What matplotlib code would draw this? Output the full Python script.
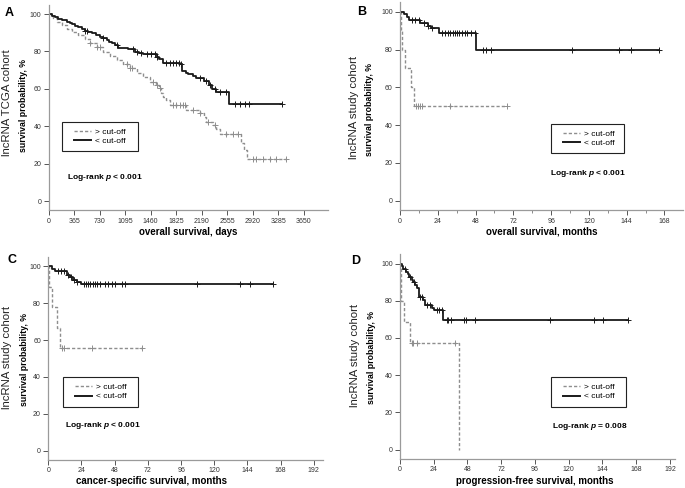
import numpy as np
import matplotlib
matplotlib.use("Agg")
import matplotlib.pyplot as plt
from matplotlib.patches import Rectangle

plt.rcParams['font.family'] = ['Liberation Sans', 'DejaVu Sans']
plt.rcParams['mathtext.fontset'] = 'custom'
plt.rcParams['mathtext.bfit'] = 'Liberation Sans:italic:bold'
plt.rcParams['lines.scale_dashes'] = False

# ---- panel A : TCGA cohort, overall survival (days)
a_hi_t = [0, 67, 114, 186, 257, 329, 424, 519, 591, 686, 781, 877, 972, 1067, 1163, 1258,
          1353, 1449, 1534, 1582, 1606, 1639, 1687, 1734, 1973, 2163, 2220, 2249, 2354,
          2392, 2449, 2759, 2792, 2840, 3393]
a_hi_s = [100, 97.7, 95.9, 94.1, 91.8, 90.2, 88.8, 86.5, 84.3, 82.2, 79.9, 77.5, 75.4, 73.3,
          70.9, 68.6, 66.1, 63.8, 62.0, 60.2, 57.6, 55.8, 54.0, 51.3, 48.7, 47.2, 45.1, 42.4,
          40.6, 38.3, 35.8, 30.8, 27.3, 22.3, 22.3]
a_hi_cens = [591, 686, 734, 1115, 1163, 1186, 1496, 1544, 1592, 1782, 1830, 1877, 1925, 1949,
             2068, 2163, 2282, 2378, 2545, 2640, 2711, 2926, 2973, 3069, 3164, 3259, 3393]
a_lo_t = [0, 45, 95, 140, 190, 257, 300, 329, 380, 424, 470, 519, 565, 615, 680, 734, 780,
          829, 870, 901, 950, 996, 1139, 1234, 1300, 1353, 1544, 1582, 1630, 1877, 1915,
          1960, 1997, 2060, 2116, 2220, 2297, 2344, 2392, 2583, 3345]
a_lo_s = [100, 99.2, 98.4, 97.3, 96.6, 95.9, 95.2, 94.7, 93.8, 92.9, 92.0, 91.1, 90.3, 89.7,
          88.8, 87.9, 87.0, 86.1, 85.2, 84.3, 83.2, 82.0, 81.1, 79.9, 79.1, 78.4, 77.2, 75.8,
          73.6, 73.1, 69.7, 68.7, 67.9, 66.8, 65.6, 64.3, 62.0, 59.7, 58.5, 51.9, 51.9]
a_lo_cens = [519, 553, 781, 972, 1201, 1258, 1329, 1401, 1472, 1520, 1544, 1687, 1734, 1782,
             1830, 1868, 1901, 2163, 2259, 2316, 2378, 2449, 2545, 2664, 2735, 2807, 2869, 3345]

# ---- panel B : study cohort, overall survival (months)
b_hi_t = [0, 0.4, 1.5, 3.2, 7.0, 9.1, 68.1]
b_hi_s = [100, 90, 80, 70, 60, 50, 50]
b_hi_cens = [10.0, 11.3, 12.8, 13.8, 31.9, 68.1]
b_lo_t = [0, 2.8, 4.7, 5.7, 12.8, 17.7, 19.8, 24.5, 48.5, 164.8]
b_lo_s = [100, 98.6, 97.0, 95.6, 93.8, 92.2, 91.3, 89.0, 80.0, 80.0]
b_lo_cens = [7.4, 9.6, 12.1, 15.1, 18.1, 20.6, 26.6, 28.7, 30.4, 31.9, 33.4, 34.7, 35.9, 37.6,
             39.3, 41.0, 42.7, 45.3, 47.4, 52.5, 54.7, 57.8, 109.1, 139.3, 146.7, 164.8]

# ---- panel C : study cohort, cancer-specific survival (months)
c_hi_t = [0, 0.5, 2.4, 6.5, 8.4, 67.5]
c_hi_s = [100, 88.9, 77.8, 66.7, 55.6, 55.6]
c_hi_cens = [9.6, 11.3, 31.3, 67.5]
c_lo_t = [0, 2.4, 4.8, 13.3, 15.7, 18.1, 21.0, 23.6, 162.6]
c_lo_s = [100, 98.6, 97.2, 95.4, 94.1, 92.7, 91.5, 90.3, 90.3]
c_lo_cens = [7.2, 9.2, 11.3, 14.5, 16.1, 18.5, 21.0, 25.8, 27.2, 28.4, 30.1, 32.0, 33.7, 35.4,
             37.3, 40.9, 43.4, 45.8, 48.2, 53.0, 55.4, 107.2, 138.5, 145.7, 162.6]

# ---- panel D : study cohort, progression-free survival (months)
d_hi_t = [0, 0.5, 3.1, 7.1, 42.2]
d_hi_s = [100, 80, 68.6, 57.1, 0]
d_hi_cens = [8.3, 9.5, 11.9, 39.1]
d_lo_t = [0, 1.2, 2.4, 4.3, 5.5, 6.6, 8.3, 9.5, 10.7, 11.9, 13.5, 16.6, 17.8, 23.0, 24.4,
          30.8, 162.4]
d_lo_s = [100, 98.6, 96.8, 95.5, 94.1, 92.5, 91.4, 89.8, 88.3, 86.9, 82.0, 80.3, 77.6, 76.1,
          74.9, 69.5, 69.5]
d_lo_cens = [3.6, 7.1, 10.2, 14.2, 15.4, 19.0, 21.3, 26.1, 27.7, 29.6, 33.2, 34.4, 36.3, 45.7,
             46.7, 53.3, 106.7, 138.2, 144.6, 162.4]

W, H = 685, 488
fig = plt.figure(figsize=(6.85, 4.88), dpi=100)
fig.patch.set_facecolor('white')

GRAY = '#8e8e8e'
BLACK = '#1a1a1a'


def px_axes(l, t, r, b):
    return fig.add_axes([l / W, 1 - b / H, (r - l) / W, (b - t) / H])


def km(ax, t, s, cens, color, ls):
    t = np.asarray(t, float)
    s = np.asarray(s, float)
    if ls == 'dash':
        ax.step(t, s, where='post', color=color, lw=1.0, dashes=(2.3, 1.5))
    else:
        ax.step(t, s, where='post', color=color, lw=1.3)
    cens = np.asarray(cens, float)
    idx = np.searchsorted(t, cens, side='right') - 1
    ax.plot(cens, s[idx], ls='none', marker='+', ms=3.8, mew=0.7, color=color)


def style(ax, xmax, xticks, minor=None):
    ax.set_xlim(0, xmax)
    ax.set_ylim(-5, 105)
    ax.set_xticks(xticks)
    if minor is not None:
        ax.set_xticks(minor, minor=True)
    ax.set_yticks([0, 20, 40, 60, 80, 100])
    for sp in ['top', 'right']:
        ax.spines[sp].set_visible(False)
    for sp in ['left', 'bottom']:
        ax.spines[sp].set_color('#9a9a9a')
        ax.spines[sp].set_linewidth(0.9)
    ax.tick_params(which='major', length=3.5, width=0.7, color='#555555', pad=1.8,
                   labelsize=5, labelcolor='#333333')
    ax.tick_params(which='minor', length=1.8, width=0.6, color='#777777')


def legend_box(ax, x0, y0, x1, y1):
    fig.add_artist(Rectangle((x0 / W, 1 - y1 / H), (x1 - x0) / W, (y1 - y0) / H,
                             transform=fig.transFigure, fill=False, ec='#222222', lw=0.8))
    h1, = ax.plot([], [], color=GRAY, lw=1.0, dashes=(2.3, 1.5))
    h2, = ax.plot([], [], color=BLACK, lw=1.4)
    ax.legend([h1, h2], ['> cut-off', '< cut-off'], loc='center left',
              bbox_to_anchor=((x0 + 12) / W, 1 - (y0 + y1) / 2 / H),
              bbox_transform=fig.transFigure, frameon=False, fontsize=6,
              borderpad=0, borderaxespad=0, handlelength=2.0, handletextpad=0.5,
              labelspacing=0.15)


def labels(tag, tag_xy, cohort, xc_reg, xc_bold, yc, xlab, xlab_xy):
    fig.text(tag_xy[0] / W, 1 - tag_xy[1] / H, tag, fontsize=9, fontweight='bold',
             ha='center', va='center')
    fig.text(xc_reg / W, 1 - yc / H, cohort, fontsize=8.2, rotation=90,
             ha='center', va='center', color='#222222')
    fig.text(xc_bold / W, 1 - (yc + 3) / H, 'survival probability, %', fontsize=6.3,
             fontweight='bold', rotation=90, ha='center', va='center')
    fig.text(xlab_xy[0] / W, 1 - xlab_xy[1] / H, xlab, fontsize=7, fontweight='bold',
             ha='center', va='center')


def logrank(ax, x, y, txt):
    ax.text(x, y, txt, fontsize=6, fontweight='bold', ha='left', va='center')


# panel A
axA = px_axes(48.7, 4.7, 328, 210.4)
km(axA, a_hi_t, a_hi_s, a_hi_cens, GRAY, 'dash')
km(axA, a_lo_t, a_lo_s, a_lo_cens, BLACK, 'solid')
style(axA, 4000, np.arange(0, 3651, 365))
legend_box(axA, 62, 122, 138, 151)
logrank(axA, 262, 12.5, r'Log-rank $\mathbfit{p}$ < 0.001')
labels('A', (9.5, 13), 'lncRNA TCGA cohort', 7, 24, 103, 'overall survival, days', (188, 232))

# panel B
axB = px_axes(400, 2.3, 683.3, 210.2)
km(axB, b_hi_t, b_hi_s, b_hi_cens, GRAY, 'dash')
km(axB, b_lo_t, b_lo_s, b_lo_cens, BLACK, 'solid')
style(axB, 180, np.arange(0, 169, 24), np.arange(12, 169, 24))
legend_box(axB, 551, 124, 624, 153)
logrank(axB, 95.2, 14.5, r'Log-rank $\mathbfit{p}$ < 0.001')
labels('B', (362, 12), 'lncRNA study cohort', 354, 370, 107, 'overall survival, months',
       (542, 232))

# panel C
axC = px_axes(48.3, 257.0, 323.3, 459.9)
km(axC, c_hi_t, c_hi_s, c_hi_cens, GRAY, 'dash')
km(axC, c_lo_t, c_lo_s, c_lo_cens, BLACK, 'solid')
style(axC, 198.8, np.arange(0, 193, 24))
legend_box(axC, 63, 377, 138, 407)
logrank(axC, 12.1, 13.6, r'Log-rank $\mathbfit{p}$ < 0.001')
labels('C', (12, 260), 'lncRNA study cohort', 7, 25, 357,
       'cancer-specific survival, months', (152, 481))

# panel D
axD = px_axes(400, 254.2, 675, 458.9)
km(axD, d_hi_t, d_hi_s, d_hi_cens, GRAY, 'dash')
km(axD, d_lo_t, d_lo_s, d_lo_cens, BLACK, 'solid')
style(axD, 195.6, np.arange(0, 193, 24))
legend_box(axD, 551, 377, 626, 407)
logrank(axD, 107.9, 12.4, r'Log-rank $\mathbfit{p}$ = 0.008')
labels('D', (355.5, 261.5), 'lncRNA study cohort', 355, 372, 355,
       'progression-free survival, months', (535, 481))

fig.savefig('out.png', dpi=100)
